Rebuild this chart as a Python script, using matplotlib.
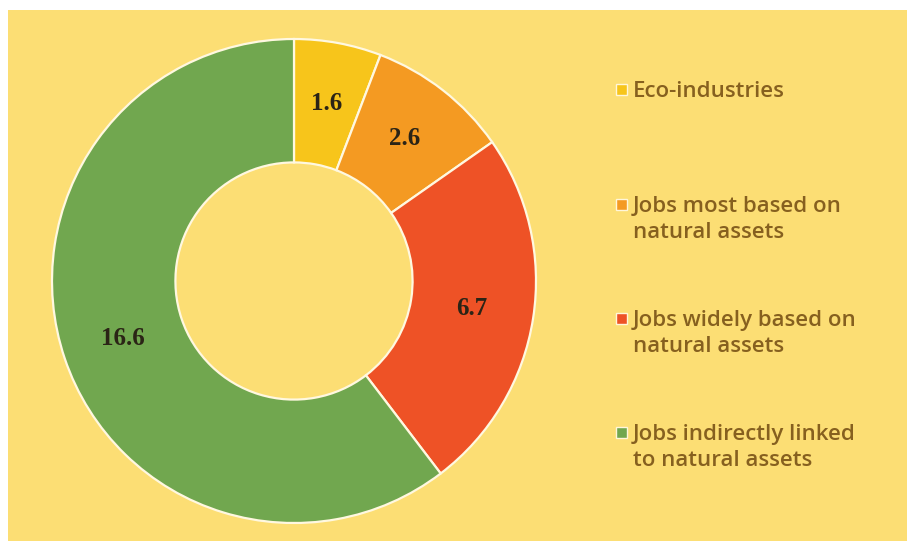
import matplotlib.pyplot as plt
from matplotlib.patches import Rectangle

# Jobs linked to natural assets (millions)
categories = ['Eco-industries',
              'Jobs most based on\nnatural assets',
              'Jobs widely based on\nnatural assets',
              'Jobs indirectly linked\nto natural assets']
values = [1.6, 2.6, 6.7, 16.6]
value_labels = ['1.6', '2.6', '6.7', '16.6']
colors = ['#F7C51B', '#F49A22', '#EE5226', '#71A74F']

bg = '#FCDE74'
text_brown = '#86601F'

W, H = 907, 541
fig = plt.figure(figsize=(W / 100, H / 100), dpi=100)
fig.patch.set_facecolor('white')
# yellow panel (white strip on top and left)
fig.patches.append(Rectangle((8 / W, 0), 1, (H - 10) / H, transform=fig.transFigure,
                             facecolor=bg, edgecolor='none', zorder=-5))

# donut
cx, cy, r = 294, 281, 242
ax = fig.add_axes([(cx - r) / W, (H - cy - r) / H, 2 * r / W, 2 * r / H])
ax.set_zorder(2)
ax.set_facecolor('none')
wedges, texts = ax.pie(values, colors=colors, startangle=90, counterclock=False,
                       radius=1, labels=value_labels, labeldistance=0.745,
                       wedgeprops=dict(width=0.51, edgecolor='#FFF8E0', linewidth=1.6),
                       textprops=dict(family='Liberation Serif', fontweight='bold',
                                      fontsize=18, color='#2B2416'))
for t in texts:
    t.set_horizontalalignment('center')
    t.set_verticalalignment('center')
ax.set_xlim(-1.0, 1.0)
ax.set_ylim(-1.0, 1.0)
ax.set_aspect('equal')
ax.axis('off')

# legend, drawn by hand
legend_y = [90, 205, 319, 433]
for lab, col, y in zip(categories, colors, legend_y):
    fig.patches.append(Rectangle((616 / W, (H - y - 5) / H), 11 / W, 11 / H,
                                 transform=fig.transFigure, facecolor=col,
                                 edgecolor='#FFF6DA', linewidth=1.0, zorder=3))
    fig.text(633 / W, (H - y + 9) / H, lab, family='Open Sans', fontsize=16,
             fontweight='semibold', color=text_brown, ha='left', va='top',
             linespacing=1.33, transform=fig.transFigure)

fig.savefig('out.png', dpi=100, facecolor=fig.get_facecolor())
